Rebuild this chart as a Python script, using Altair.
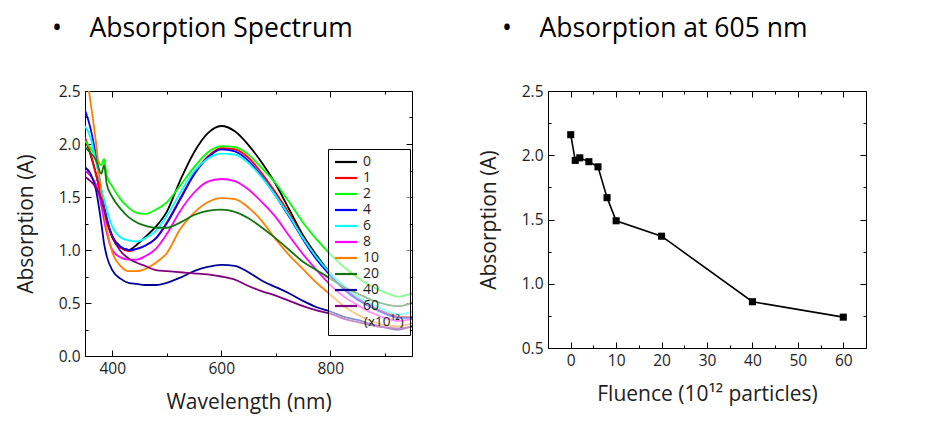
import altair as alt
import pandas as pd

# ---------------- data ----------------
wavelengths = [350, 360, 370, 380, 385, 390, 400, 415, 430, 445, 460, 480, 500, 525, 550,
               575, 600, 625, 650, 675, 700, 725, 750, 775, 800, 825, 850, 875, 900, 925, 950]

fluence_labels = ["0", "1", "2", "4", "6", "8", "10", "20", "40", "60"]
line_colors = ["#000000", "#ff0000", "#00ff00", "#0000ff", "#00ffff",
               "#ff00ff", "#ff8000", "#127512", "#000099", "#800080"]

abs_f0 = [2.05, 1.90, 1.72, 1.50, 1.39, 1.28, 1.13, 1.03, 1.00, 1.05, 1.12, 1.22, 1.36, 1.66, 1.92,
          2.10, 2.17, 2.12, 1.99, 1.82, 1.62, 1.38, 1.14, 0.95, 0.78, 0.65, 0.55, 0.47, 0.41, 0.37, 0.37]
abs_f1 = [2.06, 1.91, 1.72, 1.50, 1.39, 1.28, 1.12, 1.02, 0.99, 1.01, 1.04, 1.11, 1.26, 1.49, 1.72,
          1.88, 1.96, 1.95, 1.87, 1.72, 1.54, 1.34, 1.12, 0.93, 0.77, 0.64, 0.54, 0.47, 0.41, 0.37, 0.37]
abs_f2 = [2.03, 1.96, 1.89, 1.80, 1.86, 1.70, 1.60, 1.48, 1.40, 1.35, 1.34, 1.38, 1.45, 1.61, 1.78,
          1.92, 1.98, 1.97, 1.90, 1.77, 1.63, 1.45, 1.26, 1.10, 0.96, 0.84, 0.74, 0.66, 0.60, 0.56, 0.59]
abs_f4 = [2.32, 2.15, 1.89, 1.55, 1.42, 1.30, 1.13, 1.03, 1.00, 1.01, 1.04, 1.11, 1.25, 1.48, 1.71,
          1.87, 1.95, 1.93, 1.84, 1.69, 1.51, 1.31, 1.10, 0.91, 0.76, 0.63, 0.53, 0.46, 0.40, 0.36, 0.36]
abs_f6 = [2.17, 2.06, 1.84, 1.58, 1.48, 1.38, 1.22, 1.12, 1.09, 1.08, 1.11, 1.18, 1.32, 1.54, 1.74,
          1.86, 1.91, 1.90, 1.82, 1.68, 1.51, 1.32, 1.11, 0.93, 0.78, 0.66, 0.56, 0.49, 0.43, 0.39, 0.42]
abs_f8 = [1.75, 1.70, 1.62, 1.42, 1.28, 1.16, 1.00, 0.93, 0.91, 0.91, 0.94, 1.01, 1.15, 1.37, 1.54,
          1.645, 1.67, 1.65, 1.57, 1.45, 1.31, 1.13, 0.96, 0.81, 0.67, 0.56, 0.48, 0.41, 0.36, 0.33, 0.35]
abs_f10 = [2.75, 2.40, 2.02, 1.53, 1.37, 1.20, 0.98, 0.85, 0.80, 0.80, 0.82, 0.88, 0.97, 1.20, 1.35,
           1.45, 1.49, 1.48, 1.40, 1.27, 1.10, 0.95, 0.82, 0.69, 0.58, 0.47, 0.39, 0.33, 0.29, 0.28, 0.31]
abs_f20 = [1.97, 1.92, 1.85, 1.72, 1.80, 1.62, 1.50, 1.39, 1.31, 1.26, 1.23, 1.21, 1.21, 1.26, 1.33,
           1.37, 1.38, 1.36, 1.30, 1.21, 1.11, 1.00, 0.89, 0.81, 0.73, 0.65, 0.59, 0.53, 0.49, 0.47, 0.50]
abs_f40 = [1.78, 1.72, 1.57, 1.25, 1.06, 0.94, 0.81, 0.73, 0.69, 0.68, 0.67, 0.67, 0.69, 0.74, 0.80,
           0.84, 0.86, 0.85, 0.79, 0.71, 0.65, 0.59, 0.52, 0.46, 0.42, 0.37, 0.34, 0.30, 0.27, 0.25, 0.28]
abs_f60 = [1.69, 1.65, 1.59, 1.48, 1.38, 1.27, 1.12, 0.99, 0.92, 0.88, 0.85, 0.81, 0.80, 0.79, 0.78,
           0.77, 0.75, 0.72, 0.66, 0.61, 0.57, 0.52, 0.47, 0.43, 0.40, 0.35, 0.32, 0.29, 0.27, 0.26, 0.28]

fluence = [0, 1, 2, 4, 6, 8, 10, 20, 40, 60]
abs_605 = [2.16, 1.96, 1.98, 1.95, 1.91, 1.67, 1.49, 1.37, 0.86, 0.74]

# ---------------- tables ----------------
series = [abs_f0, abs_f1, abs_f2, abs_f4, abs_f6, abs_f8, abs_f10, abs_f20, abs_f40, abs_f60]
rows = []
for lab, vals in zip(fluence_labels, series):
    for w, a in zip(wavelengths, vals):
        rows.append({"wl": w, "A": a, "fluence": lab})
spec_df = pd.DataFrame(rows)
flu_df = pd.DataFrame({"f": fluence, "A": abs_605})

FONT = "Open Sans"
TXT = "#1e1e1e"


def ax(orient, values, major, labels=False, title=None, **kw):
    size = 6 if major else 3
    return alt.Axis(orient=orient, values=values, tickSize=size, offset=-size,
                    tickColor="black", tickWidth=1, domain=False, grid=False,
                    labels=labels, title=title, **kw)


def framed(base_line, xf, yf, xs, ys, xmaj, xmin, ymaj, ymin, data):
    ghost = alt.Chart(data).mark_point(opacity=0, clip=True)
    layers = [base_line]
    for xo, yo, maj, xv, yv in [("bottom", "left", False, xmin, ymin),
                                ("top", "right", True, xmaj, ymaj),
                                ("top", "right", False, xmin, ymin)]:
        layers.append(ghost.encode(
            x=alt.X(xf, scale=xs, axis=ax(xo, xv, maj)),
            y=alt.Y(yf, scale=ys, axis=ax(yo, yv, maj)),
        ))
    return alt.layer(*layers).resolve_axis(x="independent", y="independent")


lab_kw = dict(labelFont=FONT, labelFontSize=15.5, labelColor=TXT, labelPadding=5,
              titleFont=FONT, titleFontSize=21, titleFontWeight="normal", titleColor=TXT)

# ---------------- left panel ----------------
xs1 = alt.Scale(domain=[350, 950], nice=False, zero=False)
ys1 = alt.Scale(domain=[0, 2.5], nice=False)
x_major1 = [400, 600, 800]
x_minor1 = [500, 700, 900]
y_major1 = [0, 0.5, 1.0, 1.5, 2.0, 2.5]
y_minor1 = [0.25, 0.75, 1.25, 1.75, 2.25]

spec_lines = alt.Chart(spec_df).mark_line(strokeWidth=1.8, clip=True, interpolate="monotone").encode(
    x=alt.X("wl:Q", scale=xs1,
            axis=ax("bottom", x_major1, True, labels=True, title="Wavelength (nm)",
                    titlePadding=15, **lab_kw)),
    y=alt.Y("A:Q", scale=ys1,
            axis=ax("left", y_major1, True, labels=True, title="Absorption (A)",
                    format=".1f", titlePadding=22, **lab_kw)),
    color=alt.Color("fluence:N", sort=fluence_labels,
                    scale=alt.Scale(domain=fluence_labels, range=line_colors),
                    legend=alt.Legend(orient="none", legendX=243, legendY=58,
                                      fillColor="rgba(255,255,255,0.55)", strokeColor="black",
                                      padding=6, symbolType="M-1.2,0H3.2", symbolSize=100,
                                      symbolStrokeWidth=2.2, symbolOpacity=1,
                                      labelFont=FONT, labelFontSize=14, labelColor=TXT,
                                      labelOffset=15, rowPadding=2,
                                      title="\u2800\u2800\u2800(x10\u00b9\u00b2)",
                                      titleAnchor="start",
                                      titleOrient="bottom", titleFont=FONT, titleFontSize=13.5,
                                      titleFontWeight="normal", titleColor=TXT, titlePadding=2)),
    detail="fluence:N",
    order="wl:Q",
)

left = framed(spec_lines, "wl:Q", "A:Q", xs1, ys1, x_major1, x_minor1, y_major1, y_minor1,
              spec_df).properties(
    width=327, height=265,
    title=alt.TitleParams("\u2022\u00a0\u00a0\u00a0\u00a0Absorption Spectrum", anchor="start",
                          frame="group", dx=-33, font=FONT, fontSize=26.5, fontWeight="normal",
                          color="black", offset=42),
)

# ---------------- right panel ----------------
xs2 = alt.Scale(domain=[-5, 65], nice=False, zero=False)
ys2 = alt.Scale(domain=[0.5, 2.5], nice=False, zero=False)
x_major2 = [0, 10, 20, 30, 40, 50, 60]
x_minor2 = [5, 15, 25, 35, 45, 55]
y_major2 = [0.5, 1.0, 1.5, 2.0, 2.5]
y_minor2 = [0.75, 1.25, 1.75, 2.25]

flu_line = alt.Chart(flu_df).mark_line(
    color="black", strokeWidth=1.6,
    point=alt.OverlayMarkDef(shape="square", size=50, filled=True, color="black", opacity=1),
).encode(
    x=alt.X("f:Q", scale=xs2,
            axis=ax("bottom", x_major2, True, labels=True,
                    title="Fluence (10\u00b9\u00b2 particles)", titlePadding=15, **lab_kw)),
    y=alt.Y("A:Q", scale=ys2,
            axis=ax("left", y_major2, True, labels=True, title="Absorption (A)",
                    format=".1f", titlePadding=22, **lab_kw)),
)

right = framed(flu_line, "f:Q", "A:Q", xs2, ys2, x_major2, x_minor2, y_major2, y_minor2,
               flu_df).properties(
    width=318, height=257,
    title=alt.TitleParams("\u2022\u00a0\u00a0\u00a0\u00a0Absorption at 605 nm", anchor="start",
                          frame="group", dx=-46, font=FONT, fontSize=26.5, fontWeight="normal",
                          color="black", offset=42),
)

chart = alt.hconcat(left, right, spacing=64).properties(
    padding={"left": 14, "top": 15, "right": 5, "bottom": 5},
    background="white",
).configure_view(stroke="black", strokeWidth=1)

chart.save("out.html", embed_options={"renderer": "svg", "actions": False})
